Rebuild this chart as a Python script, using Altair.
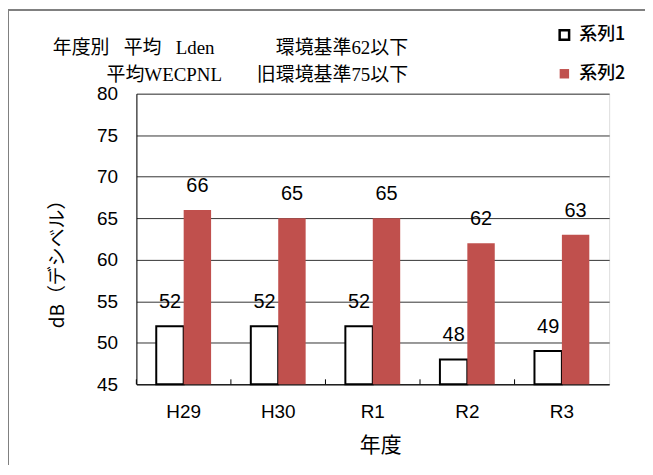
import altair as alt
import pandas as pd

categories = ["H29", "H30", "R1", "R2", "R3"]
series_names = ["系列1", "系列2"]
series1 = [52, 52, 52, 48, 49]
series2 = [66, 65, 65, 62, 63]
y_ticks = [45, 50, 55, 60, 65, 70, 75, 80]

rows = []
for c, a, b in zip(categories, series1, series2):
    rows.append({"年度": c, "系列": series_names[0], "値": a})
    rows.append({"年度": c, "系列": series_names[1], "値": b})
df = pd.DataFrame(rows)
cat_df = pd.DataFrame({"年度": categories})

W, H = 475, 292
SANS = "Liberation Sans, Noto Sans CJK JP"
JP = "Noto Sans CJK JP"
SERIF = "Liberation Serif, Noto Sans CJK JP"
SP = "\u00a0\u00a0\u00a0"

xenc = alt.X("年度:N", sort=categories,
             scale=alt.Scale(paddingInner=0.42, paddingOuter=0.21),
             axis=alt.Axis(title="年度", labelAngle=0, ticks=False, domainColor="black",
                           labelFont=SANS, labelFontSize=19, labelPadding=18, labelColor="black",
                           titleFont=JP, titleFontSize=21, titleFontWeight="normal",
                           titleX=245, titleY=62, titleBaseline="middle", titleColor="black"))
xoff = alt.XOffset("系列:N", sort=series_names, scale=alt.Scale(paddingInner=0, paddingOuter=0))
yenc = alt.Y("値:Q", scale=alt.Scale(domain=[45, 80], nice=False, zero=False),
             axis=alt.Axis(title="dB（デシベル）", values=y_ticks, ticks=False, grid=True,
                           gridColor="#333333", gridWidth=1, domainColor="black",
                           labelFont=SANS, labelFontSize=19, labelPadding=19, labelColor="black",
                           titleFont=JP, titleFontSize=19, titleFontWeight="normal",
                           titleX=-79, titleY=166, titleBaseline="middle", titleColor="black"))

legend = alt.Legend(title=None, orient="none", legendX=421, legendY=-68, symbolType="square",
                    symbolSize=90, symbolStrokeWidth=2.5, labelFont=JP, labelFontSize=18,
                    labelFontWeight=500, labelColor="black", rowPadding=19, labelOffset=6, padding=0)

border = alt.Chart(alt.Data(values=[{}])).mark_rect(fill="transparent", stroke="#808080", strokeWidth=2).encode(
    x=alt.value(-129), x2=alt.value(800), y=alt.value(-84), y2=alt.value(700))

bars = alt.Chart(df).mark_bar(strokeWidth=2).encode(
    x=xenc, xOffset=xoff, y=yenc, y2=alt.datum(45),
    color=alt.Color("系列:N", sort=series_names,
                    scale=alt.Scale(domain=series_names, range=["white", "#C0504D"]), legend=legend),
    stroke=alt.Stroke("系列:N", sort=series_names,
                      scale=alt.Scale(domain=series_names, range=["black", "transparent"]), legend=legend),
)

labels = alt.Chart(df).mark_text(dy=-24, baseline="middle", font=SANS, fontSize=20, color="black").encode(
    x=alt.X("年度:N", sort=categories), xOffset=alt.XOffset("系列:N", sort=series_names),
    y=alt.Y("値:Q"), text=alt.Text("値:Q"))

cat_ticks = alt.Chart(cat_df).mark_rule(color="black", strokeWidth=1).encode(
    x=alt.X("年度:N", sort=categories, bandPosition=0), xOffset=alt.value(-20),
    y=alt.value(H), y2=alt.value(H - 5))

def note(txt, x, y, align):
    return alt.Chart(alt.Data(values=[{}])).mark_text(
        text=txt, align=align, baseline="middle", font=SERIF, fontSize=19, color="black").encode(
        x=alt.value(x), y=alt.value(y))

notes = [
    note("年度別" + SP + "平均" + SP + "Lden", -84, -46, "left"),
    note("環境基準62以下", 273, -46, "right"),
    note("平均WECPNL", -30, -19, "left"),
    note("旧環境基準75以下", 273, -19, "right"),
]

chart = alt.layer(border, bars, labels, cat_ticks, *notes).properties(
    width=W, height=H,
    autosize=alt.AutoSizeParams(type="none"),
    padding={"left": 129, "top": 85, "right": 36, "bottom": 80},
).configure_view(stroke="#808080", strokeWidth=1).configure(background="white")

chart.save("out.html", embed_options={"renderer": "svg", "actions": False})
